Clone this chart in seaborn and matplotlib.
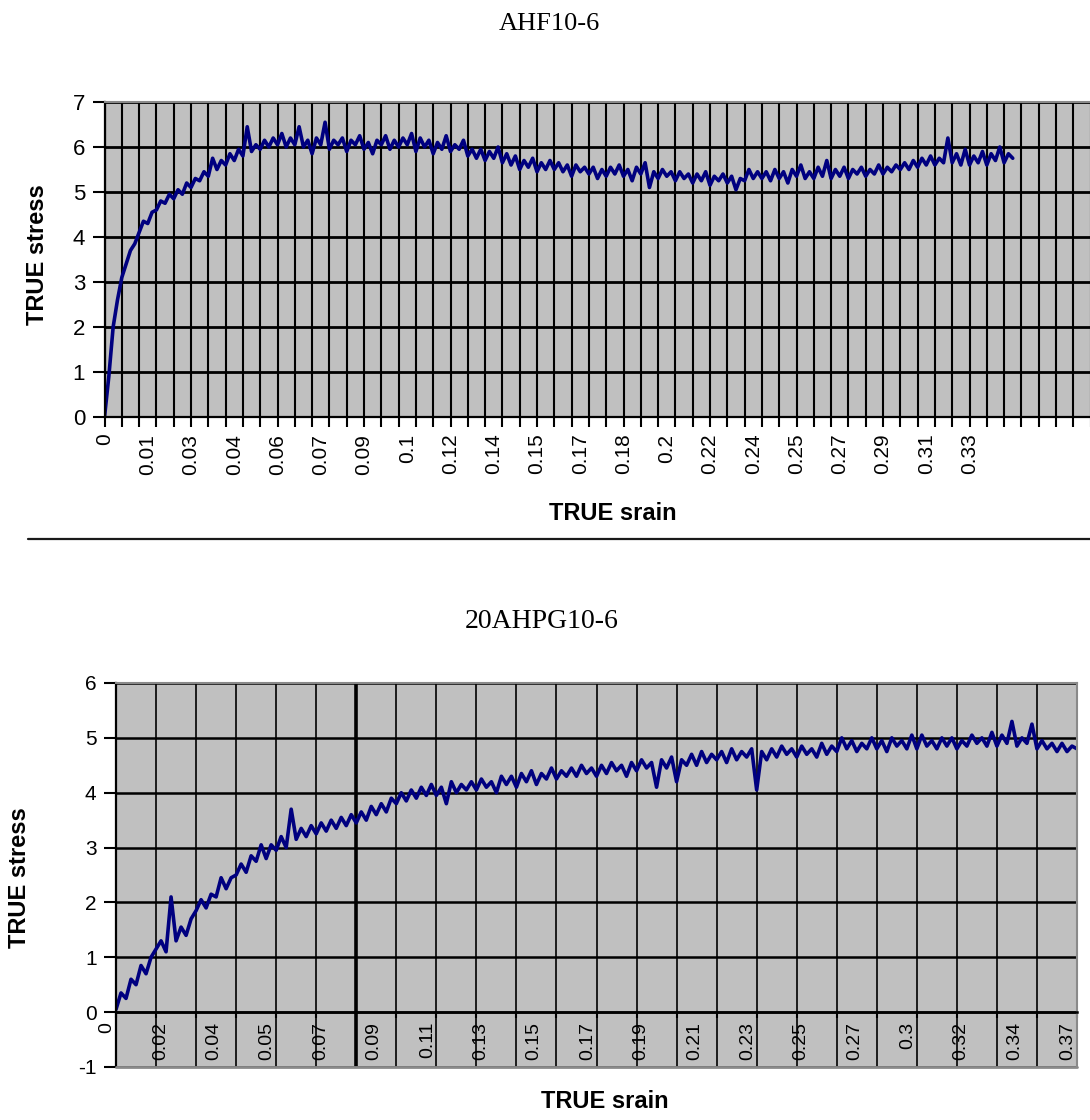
"""
True stress / true strain curves for two specimens (Excel-style category charts)
"""
import numpy as np
import pandas as pd
import matplotlib
matplotlib.use("Agg")
import matplotlib.pyplot as plt
import matplotlib.transforms as mtransforms
from matplotlib.lines import Line2D
import seaborn as sns

# ---------------- data ----------------
# AHF10-6: stress read every quarter of a category grid step
top_step = 0.25
top_stress = [
    0.0, 0.9, 2.0, 2.6, 3.1, 3.4, 3.7, 3.85, 4.1, 4.35, 4.3, 4.55,
    4.6, 4.8, 4.75, 4.95, 4.85, 5.05, 4.95, 5.2, 5.1, 5.3, 5.25, 5.45,
    5.35, 5.75, 5.5, 5.7, 5.6, 5.85, 5.7, 5.95, 5.8, 6.45, 5.9, 6.05,
    5.95, 6.15, 6.0, 6.2, 6.05, 6.3, 6.0, 6.2, 6.05, 6.45, 6.0, 6.15,
    5.85, 6.2, 6.05, 6.55, 5.95, 6.15, 6.05, 6.2, 5.9, 6.15, 6.05, 6.25,
    5.95, 6.1, 5.85, 6.15, 6.05, 6.25, 5.95, 6.15, 6.0, 6.2, 6.05, 6.3,
    5.9, 6.2, 6.0, 6.15, 5.85, 6.1, 5.95, 6.25, 5.9, 6.05, 5.95, 6.15,
    5.8, 5.95, 5.75, 5.95, 5.7, 5.9, 5.75, 6.0, 5.65, 5.85, 5.6, 5.8,
    5.5, 5.7, 5.55, 5.75, 5.45, 5.65, 5.5, 5.7, 5.5, 5.65, 5.45, 5.6,
    5.35, 5.6, 5.45, 5.55, 5.4, 5.55, 5.3, 5.5, 5.35, 5.55, 5.4, 5.6,
    5.35, 5.5, 5.25, 5.55, 5.4, 5.65, 5.1, 5.45, 5.3, 5.5, 5.35, 5.45,
    5.25, 5.45, 5.3, 5.4, 5.2, 5.4, 5.25, 5.45, 5.15, 5.35, 5.25, 5.4,
    5.2, 5.35, 5.05, 5.3, 5.25, 5.5, 5.3, 5.45, 5.3, 5.45, 5.25, 5.5,
    5.3, 5.45, 5.2, 5.5, 5.35, 5.6, 5.3, 5.45, 5.3, 5.55, 5.35, 5.7,
    5.3, 5.5, 5.35, 5.55, 5.3, 5.5, 5.4, 5.55, 5.35, 5.5, 5.4, 5.6,
    5.4, 5.55, 5.45, 5.6, 5.5, 5.65, 5.5, 5.7, 5.55, 5.75, 5.6, 5.8,
    5.6, 5.75, 5.65, 6.2, 5.65, 5.85, 5.6, 5.95, 5.6, 5.8, 5.65, 5.9,
    5.6, 5.85, 5.7, 6.0, 5.65, 5.85, 5.75,
]
top_labels = ['0', '0.01', '0.03', '0.04', '0.06', '0.07', '0.09', '0.1', '0.12',
              '0.14', '0.15', '0.17', '0.18', '0.2', '0.22', '0.24', '0.25',
              '0.27', '0.29', '0.31', '0.33']

# 20AHPG10-6: stress read every eighth of a category grid step
bot_step = 0.125
bot_stress = [
    0.05, 0.35, 0.25, 0.6, 0.5, 0.85, 0.7, 1.0,
    1.15, 1.3, 1.1, 2.1, 1.3, 1.55, 1.4, 1.7,
    1.85, 2.05, 1.9, 2.15, 2.1, 2.45, 2.25, 2.45,
    2.5, 2.7, 2.55, 2.85, 2.75, 3.05, 2.8, 3.05,
    2.95, 3.2, 3.0, 3.7, 3.15, 3.35, 3.2, 3.4,
    3.25, 3.45, 3.3, 3.5, 3.35, 3.55, 3.4, 3.6,
    3.45, 3.65, 3.5, 3.75, 3.6, 3.8, 3.65, 3.9,
    3.8, 4.0, 3.85, 4.05, 3.9, 4.1, 3.95, 4.15,
    3.95, 4.1, 3.8, 4.2, 4.0, 4.15, 4.05, 4.2,
    4.05, 4.25, 4.1, 4.2, 4.0, 4.3, 4.15, 4.3,
    4.1, 4.35, 4.2, 4.4, 4.15, 4.35, 4.25, 4.45,
    4.25, 4.4, 4.3, 4.45, 4.3, 4.5, 4.35, 4.45,
    4.3, 4.5, 4.35, 4.55, 4.4, 4.5, 4.3, 4.55,
    4.4, 4.6, 4.45, 4.55, 4.1, 4.6, 4.45, 4.65,
    4.2, 4.6, 4.5, 4.7, 4.5, 4.75, 4.55, 4.7,
    4.6, 4.75, 4.55, 4.8, 4.6, 4.75, 4.65, 4.8,
    4.05, 4.75, 4.6, 4.8, 4.65, 4.85, 4.7, 4.8,
    4.65, 4.85, 4.7, 4.8, 4.65, 4.9, 4.7, 4.85,
    4.75, 5.0, 4.8, 4.95, 4.75, 4.9, 4.8, 5.0,
    4.8, 4.95, 4.75, 5.0, 4.85, 4.95, 4.8, 5.05,
    4.8, 5.05, 4.85, 4.95, 4.8, 5.0, 4.85, 5.0,
    4.8, 4.95, 4.85, 5.05, 4.9, 5.0, 4.85, 5.1,
    4.85, 5.05, 4.9, 5.3, 4.85, 5.0, 4.9, 5.25,
    4.8, 4.95, 4.8, 4.9, 4.75, 4.9, 4.75, 4.85,
    4.8,
]
bot_labels = ['0', '0.02', '0.04', '0.05', '0.07', '0.09', '0.11', '0.13', '0.15',
              '0.17', '0.19', '0.21', '0.23', '0.25', '0.27', '0.3', '0.32',
              '0.34', '0.37']

top_ncat = 59   # grid steps on the top category axis (runs past the page edge)
bot_ncat = 24   # grid steps on the bottom category axis

df_top = pd.DataFrame({'pos': np.arange(len(top_stress)) * top_step, 'stress': top_stress})
df_bot = pd.DataFrame({'pos': np.arange(len(bot_stress)) * bot_step, 'stress': bot_stress})

# ---------------- style ----------------
sns.set_style("white")
plt.rcParams['font.family'] = ['Liberation Sans', 'DejaVu Sans']
plt.rcParams['text.color'] = 'black'
plt.rcParams['axes.labelcolor'] = 'black'
plt.rcParams['xtick.color'] = 'black'
plt.rcParams['ytick.color'] = 'black'
plt.rcParams['axes.unicode_minus'] = False

W, H = 1090, 1120
fig = plt.figure(figsize=(W / 100, H / 100), dpi=100)

PLOT_BG = '#c0c0c0'
LINE = '#000080'

# ---------------- top chart ----------------
ax1 = fig.add_axes([104.5 / W, 1 - 417 / H, 1020.7 / W, 315 / H])
sns.lineplot(data=df_top, x='pos', y='stress', ax=ax1, color=LINE, linewidth=2.6,
             estimator=None, sort=False)
ax1.set_facecolor(PLOT_BG)
ax1.set_xlim(0, top_ncat)
ax1.set_ylim(0, 7)
ax1.xaxis.remove_overlapping_locs = False
ax1.set_yticks(range(0, 8))
ax1.set_xticks(np.arange(len(top_labels)) * 2.5)
ax1.set_xticklabels(top_labels, rotation=90, fontsize=15)
ax1.set_xticks(np.arange(0, top_ncat + 1), minor=True)
ax1.tick_params(axis='x', which='major', length=0, pad=12)
ax1.tick_params(axis='x', which='minor', length=7, width=1.5, color='black', direction='out', bottom=True)
ax1.tick_params(axis='y', length=9, width=1.5, color='black', direction='out', labelsize=16, pad=5, left=True)
ax1.grid(False)
ax1.grid(True, which='minor', axis='x', color='black', linewidth=1.5)
ax1.grid(True, which='major', axis='y', color='black', linewidth=2)
ax1.set_axisbelow(True)
for side in ['left', 'bottom']:
    ax1.spines[side].set_color('black')
    ax1.spines[side].set_linewidth(1.6)
ax1.spines['top'].set_color('#8a8a8a')
ax1.spines['top'].set_linewidth(1.5)
ax1.spines['right'].set_visible(False)
ax1.set_xlabel('TRUE srain', fontsize=17, fontweight='bold')
ax1.set_ylabel('TRUE stress', fontsize=17, fontweight='bold')
ax1.xaxis.set_label_coords(0.498, -0.27)
ax1.yaxis.set_label_coords(-0.054, 0.514)

fig.text(549 / W, 1 - 24 / H, 'AHF10-6', ha='center', va='center', fontsize=19,
         family=['Liberation Serif', 'DejaVu Serif'])

# separator between the two charts
fig.add_artist(Line2D([28 / W, 1.0], [1 - 539 / H, 1 - 539 / H], color='#1a1a1a', linewidth=1.6))

# ---------------- bottom chart ----------------
ax2 = fig.add_axes([116 / W, 1 - 1067 / H, 961 / W, 384 / H])
sns.lineplot(data=df_bot, x='pos', y='stress', ax=ax2, color=LINE, linewidth=2.6,
             estimator=None, sort=False)
ax2.set_facecolor(PLOT_BG)
ax2.set_xlim(0, bot_ncat)
ax2.set_ylim(-1, 6)
ax2.xaxis.remove_overlapping_locs = False
ax2.spines['bottom'].set_position(('data', 0))
ax2.set_yticks(range(-1, 7))
ax2.set_xticks(np.arange(len(bot_labels)) * bot_ncat / (len(bot_labels) - 1))
ax2.set_xticklabels(bot_labels, rotation=90, fontsize=14)
ax2.set_xticks(np.arange(0, bot_ncat + 1), minor=True)
ax2.tick_params(axis='x', which='major', length=0, pad=7)
ax2.tick_params(axis='x', which='minor', length=4, width=1.5, color='black', direction='out', bottom=True)
ax2.tick_params(axis='y', length=9, width=1.5, color='black', direction='out', labelsize=15, pad=5, left=True)
ax2.grid(False)
ax2.grid(True, which='minor', axis='x', color='black', linewidth=1.2)
ax2.grid(True, which='major', axis='y', color='black', linewidth=1.8)
ax2.axvline(6, color='black', linewidth=2.6, zorder=1)
ax2.axhline(-1, color='#8a8a8a', linewidth=2, clip_on=False, zorder=3)
ax2.set_axisbelow(True)
ax2.spines['left'].set_color('black')
ax2.spines['left'].set_linewidth(1.6)
ax2.spines['bottom'].set_color('black')
ax2.spines['bottom'].set_linewidth(1.8)
for side in ['top', 'right']:
    ax2.spines[side].set_color('#8a8a8a')
    ax2.spines[side].set_linewidth(1.5)
ax2.set_xlabel('TRUE srain', fontsize=17, fontweight='bold')
ax2.set_ylabel('TRUE stress', fontsize=17, fontweight='bold')
ax2.xaxis.set_label_coords(0.509, -0.06)
ax2.yaxis.set_label_coords(-0.088, 0.492)

# category labels sit a little left of their ticks
shift = mtransforms.ScaledTranslation(-9 / 100, 0, fig.dpi_scale_trans)
for lab in ax2.get_xticklabels():
    lab.set_transform(lab.get_transform() + shift)

fig.text(542 / W, 1 - 622 / H, '20AHPG10-6', ha='center', va='center', fontsize=20,
         family=['Liberation Serif', 'DejaVu Serif'])

fig.savefig('out.png', dpi=100)
